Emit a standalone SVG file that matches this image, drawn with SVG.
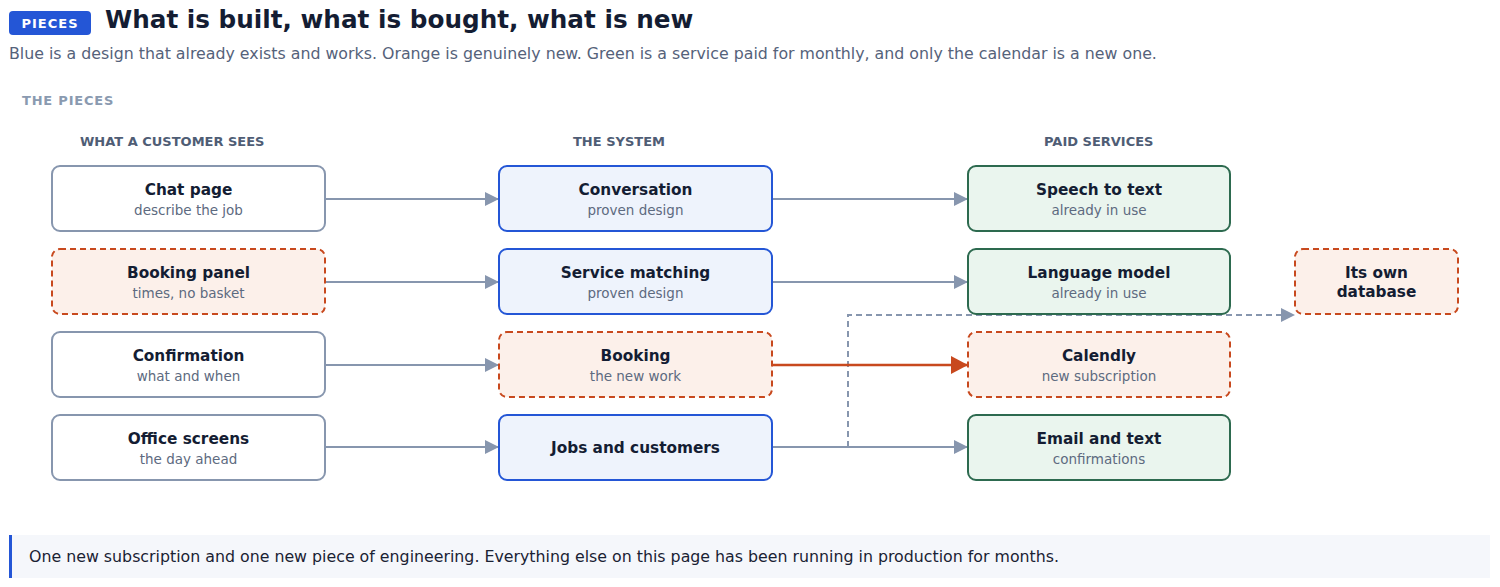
<svg xmlns="http://www.w3.org/2000/svg" width="1500" height="587" viewBox="0 0 1500 587">
<defs>
<style>
text{font-family:"DejaVu Sans","Noto Sans",sans-serif}
.t{font-size:15.3px;font-weight:bold;fill:#141d33;text-anchor:middle}
.s{font-size:13.5px;fill:#5d6a80;text-anchor:middle}
.hd{font-size:13px;font-weight:bold;fill:#4f5d75}
.plain{fill:#fff;stroke:#8796ae;stroke-width:2}
.blue{fill:#eef3fc;stroke:#2456d6;stroke-width:2}
.green{fill:#eaf5ee;stroke:#2d6a4f;stroke-width:2}
.new{fill:#fcf0ea;stroke:#c8491e;stroke-width:2;stroke-dasharray:6 4}
.c{fill:none;stroke:#8796ae;stroke-width:2}
</style>
<marker id="ag" viewBox="0 0 14 14" refX="14" refY="7" markerWidth="14" markerHeight="14" markerUnits="userSpaceOnUse" orient="auto"><path d="M0,0 L14,7 L0,14 z" fill="#8796ae"/></marker>
<marker id="ao" viewBox="0 0 17 18" refX="17" refY="9" markerWidth="17" markerHeight="18" markerUnits="userSpaceOnUse" orient="auto"><path d="M0,0 L17,9 L0,18 z" fill="#c8491e"/></marker>
</defs>
<rect width="1500" height="587" fill="#fff"/>
<rect x="9" y="11" width="82" height="24" rx="4" fill="#2456d6"/>
<text x="50" y="28" font-size="13" font-weight="bold" fill="#fff" text-anchor="middle" letter-spacing="1">PIECES</text>
<text x="105" y="28" font-size="24.7" font-weight="bold" fill="#141d33">What is built, what is bought, what is new</text>
<text x="9" y="59" font-size="15.8" fill="#55627a">Blue is a design that already exists and works. Orange is genuinely new. Green is a service paid for monthly, and only the calendar is a new one.</text>
<text x="22" y="105" font-size="13" font-weight="bold" fill="#8a9ab0" letter-spacing="0.8">THE PIECES</text>
<text class="hd" x="80" y="146">WHAT A CUSTOMER SEES</text>
<text class="hd" x="573" y="146">THE SYSTEM</text>
<text class="hd" x="1044" y="146">PAID SERVICES</text>

<g id="connectors">
<path class="c" d="M325,199 H499" marker-end="url(#ag)"/>
<path class="c" d="M325,282 H499" marker-end="url(#ag)"/>
<path class="c" d="M325,365 H499" marker-end="url(#ag)"/>
<path class="c" d="M325,447 H499" marker-end="url(#ag)"/>
<path class="c" d="M772,199 H968" marker-end="url(#ag)"/>
<path class="c" d="M772,282 H968" marker-end="url(#ag)"/>
<path class="c" d="M772,447 H968" marker-end="url(#ag)"/>
<path class="c" d="M848,447 V315 H1295" stroke-dasharray="6 4" marker-end="url(#ag)"/>
<path d="M772,365 H968" fill="none" stroke="#c8491e" stroke-width="2.5" marker-end="url(#ao)"/>
</g>

<g id="chat"><rect class="plain" x="52" y="166" width="273" height="65" rx="8"/><text class="t" x="188.5" y="195">Chat page</text><text class="s" x="188.5" y="215">describe the job</text></g>
<g id="bookingpanel"><rect class="new" x="52" y="249" width="273" height="65" rx="8"/><text class="t" x="188.5" y="278">Booking panel</text><text class="s" x="188.5" y="298">times, no basket</text></g>
<g id="confirmation"><rect class="plain" x="52" y="332" width="273" height="65" rx="8"/><text class="t" x="188.5" y="361">Confirmation</text><text class="s" x="188.5" y="381">what and when</text></g>
<g id="office"><rect class="plain" x="52" y="415" width="273" height="65" rx="8"/><text class="t" x="188.5" y="444">Office screens</text><text class="s" x="188.5" y="464">the day ahead</text></g>

<g id="conversation"><rect class="blue" x="499" y="166" width="273" height="65" rx="8"/><text class="t" x="635.5" y="195">Conversation</text><text class="s" x="635.5" y="215">proven design</text></g>
<g id="matching"><rect class="blue" x="499" y="249" width="273" height="65" rx="8"/><text class="t" x="635.5" y="278">Service matching</text><text class="s" x="635.5" y="298">proven design</text></g>
<g id="booking"><rect class="new" x="499" y="332" width="273" height="65" rx="8"/><text class="t" x="635.5" y="361">Booking</text><text class="s" x="635.5" y="381">the new work</text></g>
<g id="jobs"><rect class="blue" x="499" y="415" width="273" height="65" rx="8"/><text class="t" x="635.5" y="453">Jobs and customers</text></g>

<g id="speech"><rect class="green" x="968" y="166" width="262" height="65" rx="8"/><text class="t" x="1099" y="195">Speech to text</text><text class="s" x="1099" y="215">already in use</text></g>
<g id="llm"><rect class="green" x="968" y="249" width="262" height="65" rx="8"/><text class="t" x="1099" y="278">Language model</text><text class="s" x="1099" y="298">already in use</text></g>
<g id="calendly"><rect class="new" x="968" y="332" width="262" height="65" rx="8"/><text class="t" x="1099" y="361">Calendly</text><text class="s" x="1099" y="381">new subscription</text></g>
<g id="email"><rect class="green" x="968" y="415" width="262" height="65" rx="8"/><text class="t" x="1099" y="444">Email and text</text><text class="s" x="1099" y="464">confirmations</text></g>

<g id="database"><rect class="new" x="1295" y="249" width="163" height="65" rx="8"/><text class="t" x="1376.5" y="278">Its own</text><text class="t" x="1376.5" y="297">database</text></g>

<rect x="9" y="535" width="1481" height="43" fill="#f5f7fb"/>
<rect x="9" y="535" width="3" height="43" fill="#2456d6"/>
<text x="29" y="562" font-size="15.8" fill="#1a2233">One new subscription and one new piece of engineering. Everything else on this page has been running in production for months.</text>
</svg>
